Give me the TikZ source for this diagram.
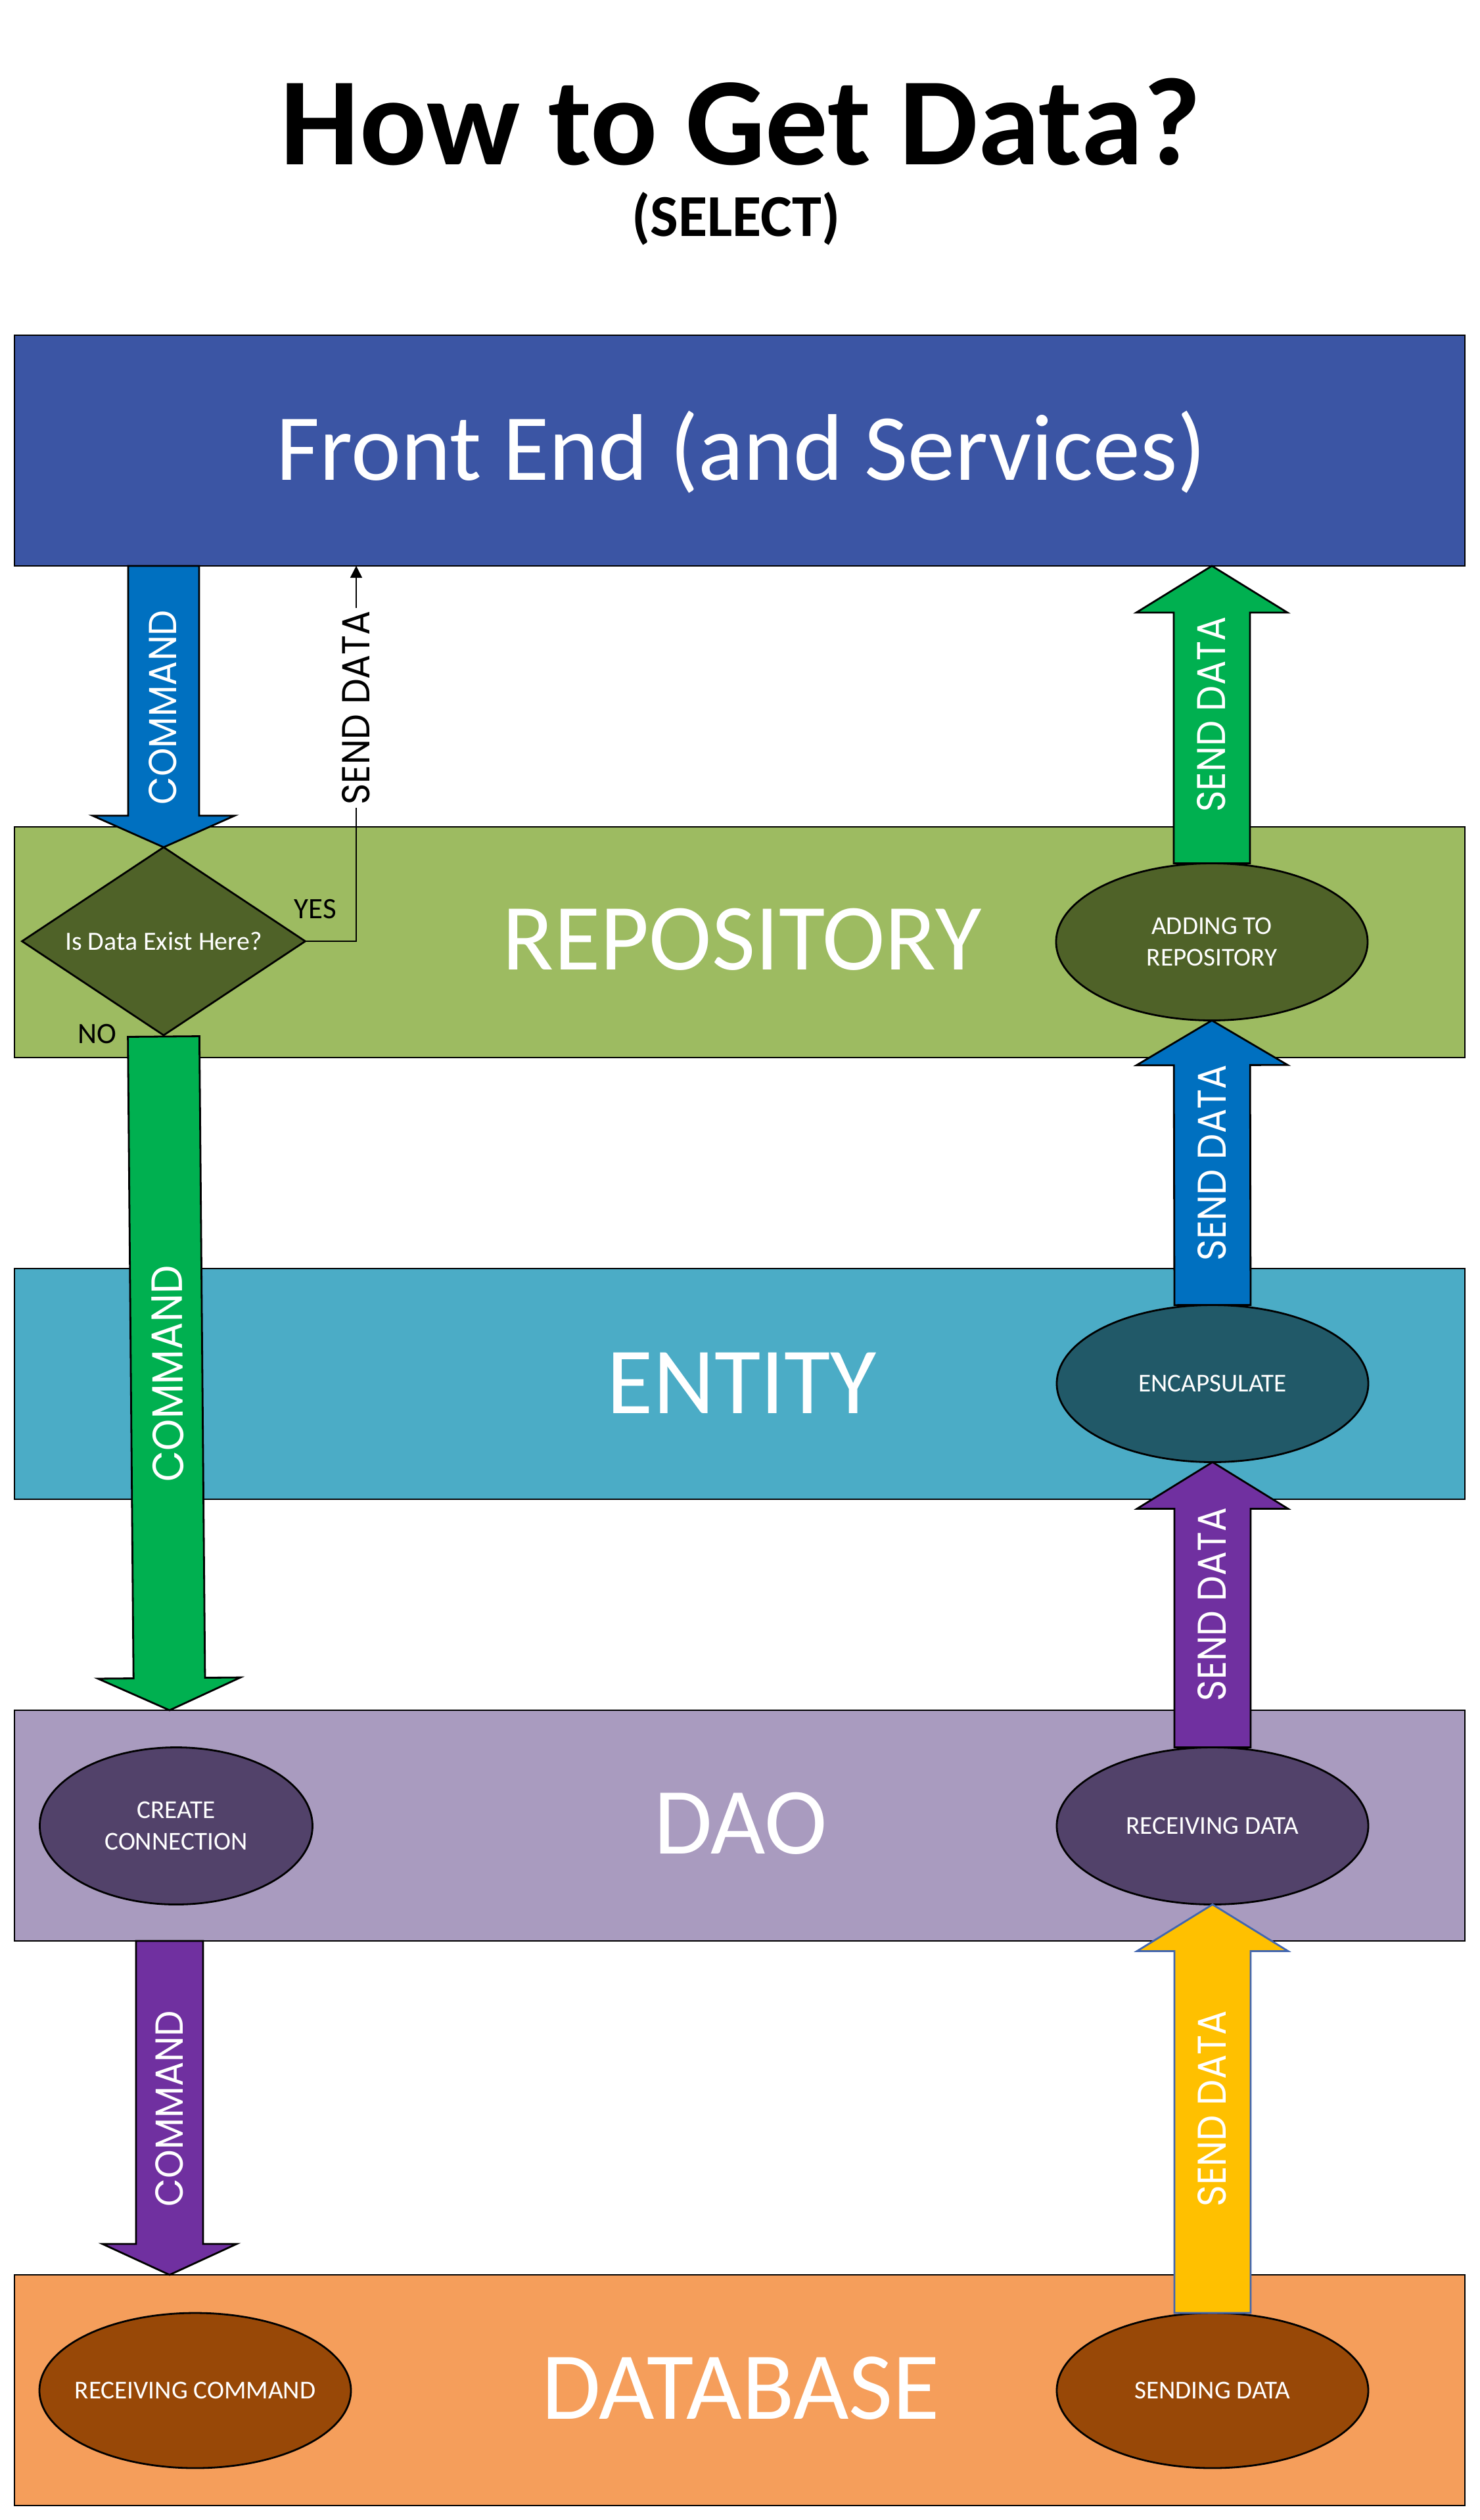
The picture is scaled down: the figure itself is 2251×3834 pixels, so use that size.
\documentclass[tikz,border=0pt]{standalone}
\usepackage{fontspec}
\setmainfont{Carlito}
\newfontfamily\geofont{Poppins}
\usetikzlibrary{shapes.geometric,calc,arrows.meta}
\definecolor{frontC}{HTML}{3B55A4}
\definecolor{repoC}{HTML}{9DBB61}
\definecolor{diaC}{HTML}{4F6228}
\definecolor{entC}{HTML}{4BACC6}
\definecolor{encC}{HTML}{215968}
\definecolor{daoC}{HTML}{A99BBF}
\definecolor{daoE}{HTML}{52426A}
\definecolor{dbC}{HTML}{F59E5B}
\definecolor{dbE}{HTML}{984807}
\definecolor{arBlue}{HTML}{0070C0}
\definecolor{arGreen}{HTML}{00B050}
\definecolor{arPurple}{HTML}{7030A0}
\definecolor{arYellow}{HTML}{FFC000}
\definecolor{yelEdge}{HTML}{4266B0}
% #1 draw options, #2 start, #3 tip, #4 shaft half width, #5 head half width, #6 head length
\newcommand\blockarrow[6]{%
  \path ($(#3)!#6!(#2)$) coordinate (bhb);
  \draw[#1] ($(#2)!#4!90:(#3)$) -- ($(bhb)!#4!90:(#3)$) -- ($(bhb)!#5!90:(#3)$) -- (#3)
    -- ($(bhb)!#5!-90:(#3)$) -- ($(bhb)!#4!-90:(#3)$) -- ($(#2)!#4!-90:(#3)$) -- cycle;}
\begin{document}
\begin{tikzpicture}[x=0.25pt,y=-0.25pt,
  layerbox/.style={draw=black, line width=0.6pt, minimum width=551.75pt, minimum height=87.75pt, inner sep=0pt, outer sep=0pt, anchor=north west},
  procell/.style={ellipse, draw=black, line width=0.7pt, inner sep=0pt, outer sep=0pt, minimum width=118.5pt, minimum height=59.75pt},
  ptext/.style={text=white, font=\fontsize{9.8pt}{12pt}\selectfont, align=center, inner sep=0pt},
  biglab/.style={text=white, font=\fontsize{36pt}{43pt}\selectfont, anchor=base, inner sep=0pt},
  vlab/.style={rotate=90, inner sep=0pt, text=white, font=\geofont},
  sdlab/.style={rotate=90, inner sep=1.2pt, fill=white, text=black, font=\geofont},
  yn/.style={font=\fontsize{11.25pt}{13pt}\selectfont, anchor=base, inner sep=0pt},
  barr/.style={line width=0.7pt, draw=black, line join=miter, miter limit=20}
]
\fill[white] (0,0) rectangle (2251,3834);
\useasboundingbox (0,0) rectangle (2251,3834);

% title
\node[anchor=base, inner sep=0pt, font=\fontsize{47.6pt}{56pt}\selectfont\bfseries] (title) at (1127,250) {How to Get Data?};
\node[anchor=base, inner sep=0pt, font=\fontsize{22.6pt}{27pt}\selectfont\bfseries] (sub) at (1120,359) {(SELECT)};

% layers
\node[layerbox, fill=frontC] (front) at (22,510) {};
\node[layerbox, fill=repoC] (repo) at (22,1258) {};
\node[layerbox, fill=entC] (entity) at (22,1930) {};
\node[layerbox, fill=daoC] (dao) at (22,2602) {};
\node[layerbox, fill=dbC] (db) at (22,3461) {};

\node[biglab] (frontL) at (1128,730) {Front End (and Services)};
\node[biglab] (repoL) at (1129,1475) {REPOSITORY};
\node[biglab] (entL) at (1129,2150) {ENTITY};
\node[biglab] (daoL) at (1127,2820) {DAO};
\node[biglab, font=\fontsize{36.5pt}{43pt}\selectfont] (dbL) at (1127,3680) {DATABASE};

% decision
\node[diamond, draw=black, fill=diaC, aspect=1.5, minimum width=107.75pt, minimum height=71.5pt,
  inner sep=0pt, outer sep=0pt, line width=0.7pt, text=white, font=\fontsize{10pt}{12pt}\selectfont] (dia) at (249,1432) {Is Data Exist Here?};
\node[yn] (yes) at (480,1397) {YES};
\node[yn] (no) at (148,1587) {NO};

% process ellipses
\node[procell, fill=diaC] (e1) at (1844,1433) {};
\node[procell, fill=encC] (e2) at (1845,2105) {};
\node[procell, fill=daoE] (e3) at (1845,2778) {};
\node[procell, fill=dbE, minimum height=59pt] (e4) at (1845,3637) {};
\node[procell, fill=daoE, minimum width=103.75pt] (cc) at (268,2778) {};
\node[procell, fill=dbE, minimum height=59pt] (rc) at (297,3637) {};

\node[ptext] (t1) at (e1) {ADDING TO\\REPOSITORY};
\node[ptext] (t2) at (e2) {ENCAPSULATE};
\node[ptext] (t3) at (e3) {RECEIVING DATA};
\node[ptext] (t4) at (e4) {SENDING DATA};
\node[ptext] (t5) at (cc) {CREATE\\CONNECTION};
\node[ptext] (t6) at (rc) {RECEIVING COMMAND};

% block arrows
\coordinate (cmdS) at (front.south -| dia.north);
\blockarrow{barr, fill=arBlue}{cmdS}{dia.north}{13.5pt}{27pt}{12pt}
\coordinate (noS) at (249,1577);
\coordinate (noE) at (258,2602);
\blockarrow{barr, fill=arGreen}{noS}{noE}{13.6pt}{27.1pt}{12.25pt}
\coordinate (c3S) at (258,2953);
\coordinate (c3E) at (258,3461);
\blockarrow{barr, fill=arPurple}{c3S}{c3E}{12.75pt}{25.5pt}{11.75pt}
\coordinate (gTop) at (e1.north |- front.south);
\blockarrow{barr, fill=arGreen}{e1.north}{gTop}{14.5pt}{28.75pt}{17.75pt}
\blockarrow{barr, fill=arBlue}{e2.north}{e1.south}{14.5pt}{28.75pt}{17pt}
\blockarrow{barr, fill=arPurple}{e3.north}{e2.south}{14.5pt}{28.75pt}{17.75pt}
\blockarrow{barr, draw=yelEdge, fill=arYellow}{e4.north}{e3.south}{14.5pt}{28.75pt}{17.75pt}

% arrow labels
\node[vlab] (l1) at (248,1076) {\resizebox{74pt}{10.5pt}{COMMAND}};
\node[vlab, rotate=0.5] (l2) at (255,2090) {\resizebox{82.5pt}{11.75pt}{COMMAND}};
\node[vlab] (l3) at (258,3208) {\resizebox{74.5pt}{10.5pt}{COMMAND}};
\node[vlab] (l4) at (1843,1087) {\resizebox{74.25pt}{10.75pt}{SEND DATA}};
\node[vlab] (l5) at (1844,1769) {\resizebox{74.5pt}{10.75pt}{SEND DATA}};
\node[vlab] (l6) at (1844,2441) {\resizebox{73.5pt}{10.75pt}{SEND DATA}};
\node[vlab] (l7) at (1844,3208) {\resizebox{74.5pt}{10.75pt}{SEND DATA}};

% YES connector
\coordinate (sdTop) at (542,861);
\coordinate (sdCorner) at (dia.east -| sdTop);
\draw[line width=0.4pt, -{Triangle[width=4.5pt,length=4.5pt]}] (dia.east) -- (sdCorner)
  -- node[pos=0.622, sdlab] (l0) {\resizebox{73.75pt}{10.5pt}{SEND DATA}} (sdTop);
\end{tikzpicture}
\end{document}
